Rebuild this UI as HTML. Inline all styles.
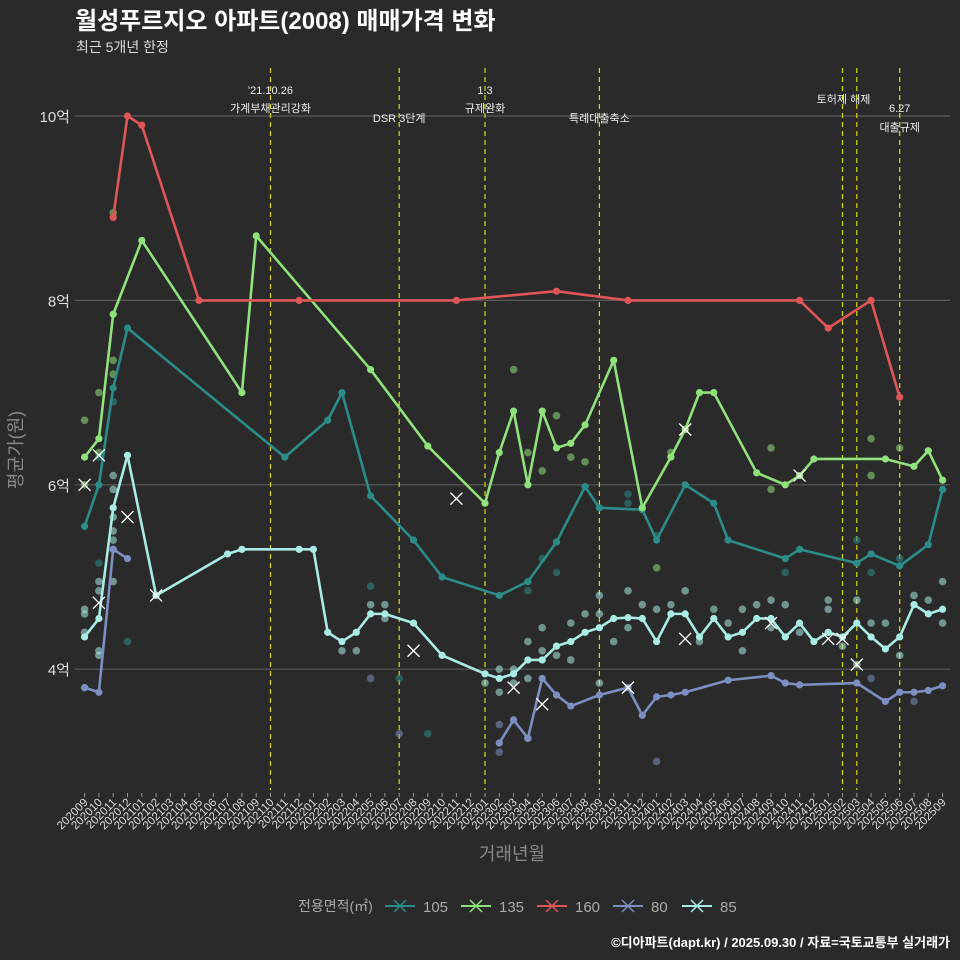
<!DOCTYPE html>
<html><head><meta charset="utf-8">
<style>
html,body{margin:0;padding:0;background:#2a2a2a;}
svg{display:block;font-family:"Liberation Sans","Noto Sans CJK KR",sans-serif;}
</style></head>
<body>
<svg id="chart" width="960" height="960">
<rect width="960" height="960" fill="#2a2a2a"/>
<text x="75" y="29" fill="#fff" font-size="24" font-weight="bold">월성푸르지오 아파트(2008) 매매가격 변화</text>
<text x="76" y="52" fill="#ddd" font-size="14">최근 5개년 한정</text>
<g id="grid"></g><g id="vlines"></g><g id="dots"></g><g id="lines"></g><g id="xaxis"></g><g id="yaxis"></g>
<text x="0" y="0" transform="translate(22,450) rotate(-90)" text-anchor="middle" fill="#888" font-size="18">평균가(원)</text>
<text x="512" y="860" text-anchor="middle" fill="#888" font-size="18">거래년월</text>
<g id="legend"></g>
<text x="950" y="947" text-anchor="end" fill="#fff" font-size="13" font-weight="bold">©디아파트(dapt.kr) / 2025.09.30 / 자료=국토교통부 실거래가</text>
</svg>
<script>
const months=[];for(let y=2020;y<=2025;y++)for(let m=1;m<=12;m++){const k=y*100+m;if(k>=202009&&k<=202509)months.push(String(k));}
const yTicks=[4,6,8,10];
const yTickLabels=["4억","6억","8억","10억"];
const seriesNames=["105","135","160","80","85"];
const seriesColors=["#2b8c8a","#90e27c","#e05656","#7b8fc2","#a9ece6"];
const s105=[[0,5.55],[1,6.0],[2,7.05],[3,7.7],[14,6.3],[17,6.7],[18,7.0],[20,5.88],[23,5.4],[25,5.0],[29,4.8],[31,4.95],[33,5.38],[35,5.98],[36,5.75],[39,5.73],[40,5.4],[42,6.0],[44,5.8],[45,5.4],[49,5.2],[50,5.3],[54,5.15],[55,5.25],[57,5.12],[59,5.35],[60,5.95]];
const s135=[[0,6.3],[1,6.5],[2,7.85],[4,8.65],[11,7.0],[12,8.7],[20,7.25],[24,6.42],[28,5.8],[29,6.35],[30,6.8],[31,6.0],[32,6.8],[33,6.4],[34,6.45],[35,6.65],[37,7.35],[39,5.75],[41,6.3],[42,6.6],[43,7.0],[44,7.0],[47,6.13],[49,6.0],[50,6.1],[51,6.28],[56,6.28],[58,6.2],[59,6.37],[60,6.05]];
const s160=[[2,8.9],[3,10.0],[4,9.9],[8,8.0],[15,8.0],[26,8.0],[33,8.1],[38,8.0],[50,8.0],[52,7.7],[55,8.0],[57,6.95]];
const s80a=[[0,3.8],[1,3.75],[2,5.3],[3,5.2]];
const s80b=[[29,3.2],[30,3.45],[31,3.25],[32,3.9],[33,3.72],[34,3.6],[36,3.72],[38,3.8],[39,3.5],[40,3.7],[41,3.72],[42,3.75],[45,3.88],[48,3.93],[49,3.85],[50,3.83],[54,3.85],[56,3.65],[57,3.75],[58,3.75],[59,3.77],[60,3.82]];
const s85=[[0,4.35],[1,4.55],[2,5.75],[3,6.32],[5,4.8],[10,5.25],[11,5.3],[15,5.3],[16,5.3],[17,4.4],[18,4.3],[19,4.4],[20,4.6],[21,4.6],[23,4.5],[25,4.15],[28,3.95],[29,3.9],[30,3.95],[31,4.1],[32,4.1],[33,4.25],[34,4.3],[35,4.4],[36,4.45],[37,4.55],[38,4.56],[39,4.55],[40,4.3],[41,4.6],[42,4.6],[43,4.35],[44,4.55],[45,4.35],[46,4.4],[47,4.55],[48,4.55],[49,4.35],[50,4.5],[51,4.3],[52,4.4],[53,4.35],[54,4.5],[55,4.35],[56,4.22],[57,4.35],[58,4.7],[59,4.6],[60,4.65]];
const extra105=[[1,5.15],[1,6.3],[2,6.9],[3,4.3],[20,4.9],[22,3.9],[24,3.3],[31,4.85],[32,5.2],[33,5.05],[38,5.9],[38,5.8],[40,5.45],[49,5.05],[54,5.4],[55,5.05],[57,5.2]];
const extra135=[[0,6.7],[0,6.0],[1,6.35],[1,7.0],[2,7.2],[2,7.35],[2,8.95],[30,7.25],[31,6.35],[32,6.15],[33,6.75],[34,6.3],[35,6.25],[40,5.1],[41,6.35],[48,5.95],[48,6.4],[55,6.5],[55,6.1],[57,6.4]];
const extra85=[[0,4.4],[0,4.6],[0,4.65],[1,4.95],[1,4.85],[1,4.2],[1,4.15],[2,6.1],[2,5.95],[2,5.65],[2,5.5],[2,5.4],[2,4.95],[20,4.7],[21,4.55],[21,4.7],[19,4.2],[18,4.2],[28,3.85],[29,4.0],[29,3.75],[30,4.0],[30,3.85],[31,3.9],[31,4.3],[32,4.2],[32,4.45],[33,4.15],[34,4.1],[34,4.5],[35,4.6],[36,4.8],[36,3.85],[36,4.6],[37,4.3],[38,4.85],[38,4.45],[39,4.7],[40,4.65],[41,4.7],[42,4.85],[43,4.3],[44,4.65],[45,4.5],[46,4.2],[46,4.65],[47,4.7],[48,4.75],[48,4.45],[49,4.7],[50,4.4],[52,4.75],[52,4.65],[53,4.25],[54,4.75],[54,4.05],[55,4.5],[56,4.5],[57,4.15],[58,4.8],[59,4.75],[60,4.95],[60,4.5]];
const extra80=[[0,3.8],[2,5.3],[20,3.9],[22,3.3],[29,3.1],[29,3.4],[31,3.25],[40,3.0],[55,3.9],[58,3.65]];
const crossPts=[[0,6.0,"135"],[1,6.32,"135"],[26,5.85,"135"],[42,6.6,"135"],[50,6.1,"135"],[1,4.72,"85"],[3,5.65,"85"],[5,4.8,"85"],[30,3.8,"85"],[32,3.62,"85"],[38,3.8,"80"],[42,4.33,"85"],[48,4.5,"85"],[52,4.33,"85"],[53,4.33,"85"],[54,4.05,"80"],[23,4.2,"85"]];
const eventIdx=[13,22,28,36,53,54,57];
const eventL1=["'21.10.26","","1.3","","토허제 해제","","6.27"];
const eventL2=["가계부채관리강화","DSR 3단계","규제완화","특례대출축소","","","대출규제"];

const NS="http://www.w3.org/2000/svg";
const X=i=>84.6+14.3*i;
const Y=v=>116+(10-v)*92.2;
function el(p,t,a){const e=document.createElementNS(NS,t);for(const k in a)e.setAttribute(k,a[k]);p.appendChild(e);return e;}
const col=n=>seriesColors[seriesNames.indexOf(n)];
const grid=document.getElementById('grid');
[5,7,9].forEach(v=>{const l=el(grid,'line',{x1:75,x2:950,y1:Y(v),y2:Y(v),stroke:'#2f2f2f','stroke-width':0.6});

});
const ya=document.getElementById('yaxis');
yTicks.forEach((v,i)=>{const l=el(grid,'line',{x1:75,x2:950,y1:Y(v),y2:Y(v),stroke:'#5a5a5a','stroke-width':1.2});


const t=el(ya,'text',{x:70,y:Y(v)+6,'text-anchor':'end',fill:'#ddd','font-size':15});t.textContent=yTickLabels[i];

});
const vl=document.getElementById('vlines');
eventIdx.forEach((k,i)=>{const l=el(vl,'line',{x1:X(k),x2:X(k),y1:68,y2:790,stroke:'#d8d81a','stroke-width':1.2,'stroke-dasharray':'5,4'});


const cx=(k===53)?X(53)+1:X(k);
const ys={13:[94,112],22:[0,122],28:[94,112],36:[0,122],53:[103,0],57:[112,131]}[k];
if(!ys)return;
if(eventL1[i]){const t=el(vl,'text',{x:cx,y:ys[0],'text-anchor':'middle',fill:'#eee','font-size':11});t.textContent=eventL1[i];

}
if(eventL2[i]){const t=el(vl,'text',{x:cx,y:ys[1],'text-anchor':'middle',fill:'#eee','font-size':11});t.textContent=eventL2[i];

}});
const dg=document.getElementById('dots');
[[extra105,"105"],[extra135,"135"],[extra85,"85"],[extra80,"80"]].forEach(([arr,n])=>arr.forEach(p=>{const c=el(dg,'circle',{cx:X(p[0]),cy:Y(p[1]),r:3.8,fill:col(n),opacity:0.55});

}));
const lg=document.getElementById('lines');
[[s105,"105"],[s135,"135"],[s160,"160"],[s80a,"80"],[s80b,"80"],[s85,"85"]].forEach(([arr,n])=>{
const p=el(lg,'polyline',{points:arr.map(q=>X(q[0])+','+Y(q[1])).join(' '),fill:'none',stroke:col(n),'stroke-width':2.6,'stroke-linejoin':'round'});


arr.forEach(q=>{const c=el(lg,'circle',{cx:X(q[0]),cy:Y(q[1]),r:3.6,fill:col(n)});

});});
crossPts.forEach(p=>{const x=X(p[0]),y=Y(p[1]),d=6;const g=el(lg,'path',{d:`M${x-d},${y-d}L${x+d},${y+d}M${x-d},${y+d}L${x+d},${y-d}`,stroke:'#fff','stroke-width':1.3});

});
const xa=document.getElementById('xaxis');
months.forEach((m,i)=>{const x=X(i);const t=el(xa,'line',{x1:x,x2:x,y1:793,y2:797,stroke:'#999'});


const tx=el(xa,'text',{x:x+4,y:803,'text-anchor':'end',fill:'#ddd','font-size':11.5,transform:`rotate(-45 ${x+4} 803)`});tx.textContent=m;

});
const lgd=document.getElementById('legend');
const lt=el(lgd,'text',{x:298,y:911,fill:'#aaa','font-size':14});lt.textContent='전용면적(㎡)';


const lx=[385,461,537,613,682];
seriesNames.forEach((n,i)=>{const g=el(lgd,'g',{});


const x=lx[i];el(g,'line',{x1:x,x2:x+30,y1:906,y2:906,stroke:seriesColors[i],'stroke-width':2});
el(g,'path',{d:`M${x+9},${900}L${x+21},${912}M${x+9},${912}L${x+21},${900}`,stroke:seriesColors[i],'stroke-width':1.5});
const t=el(g,'text',{x:x+38,y:912,fill:'#aaa','font-size':15});t.textContent=n;});
</script>
</body></html>
